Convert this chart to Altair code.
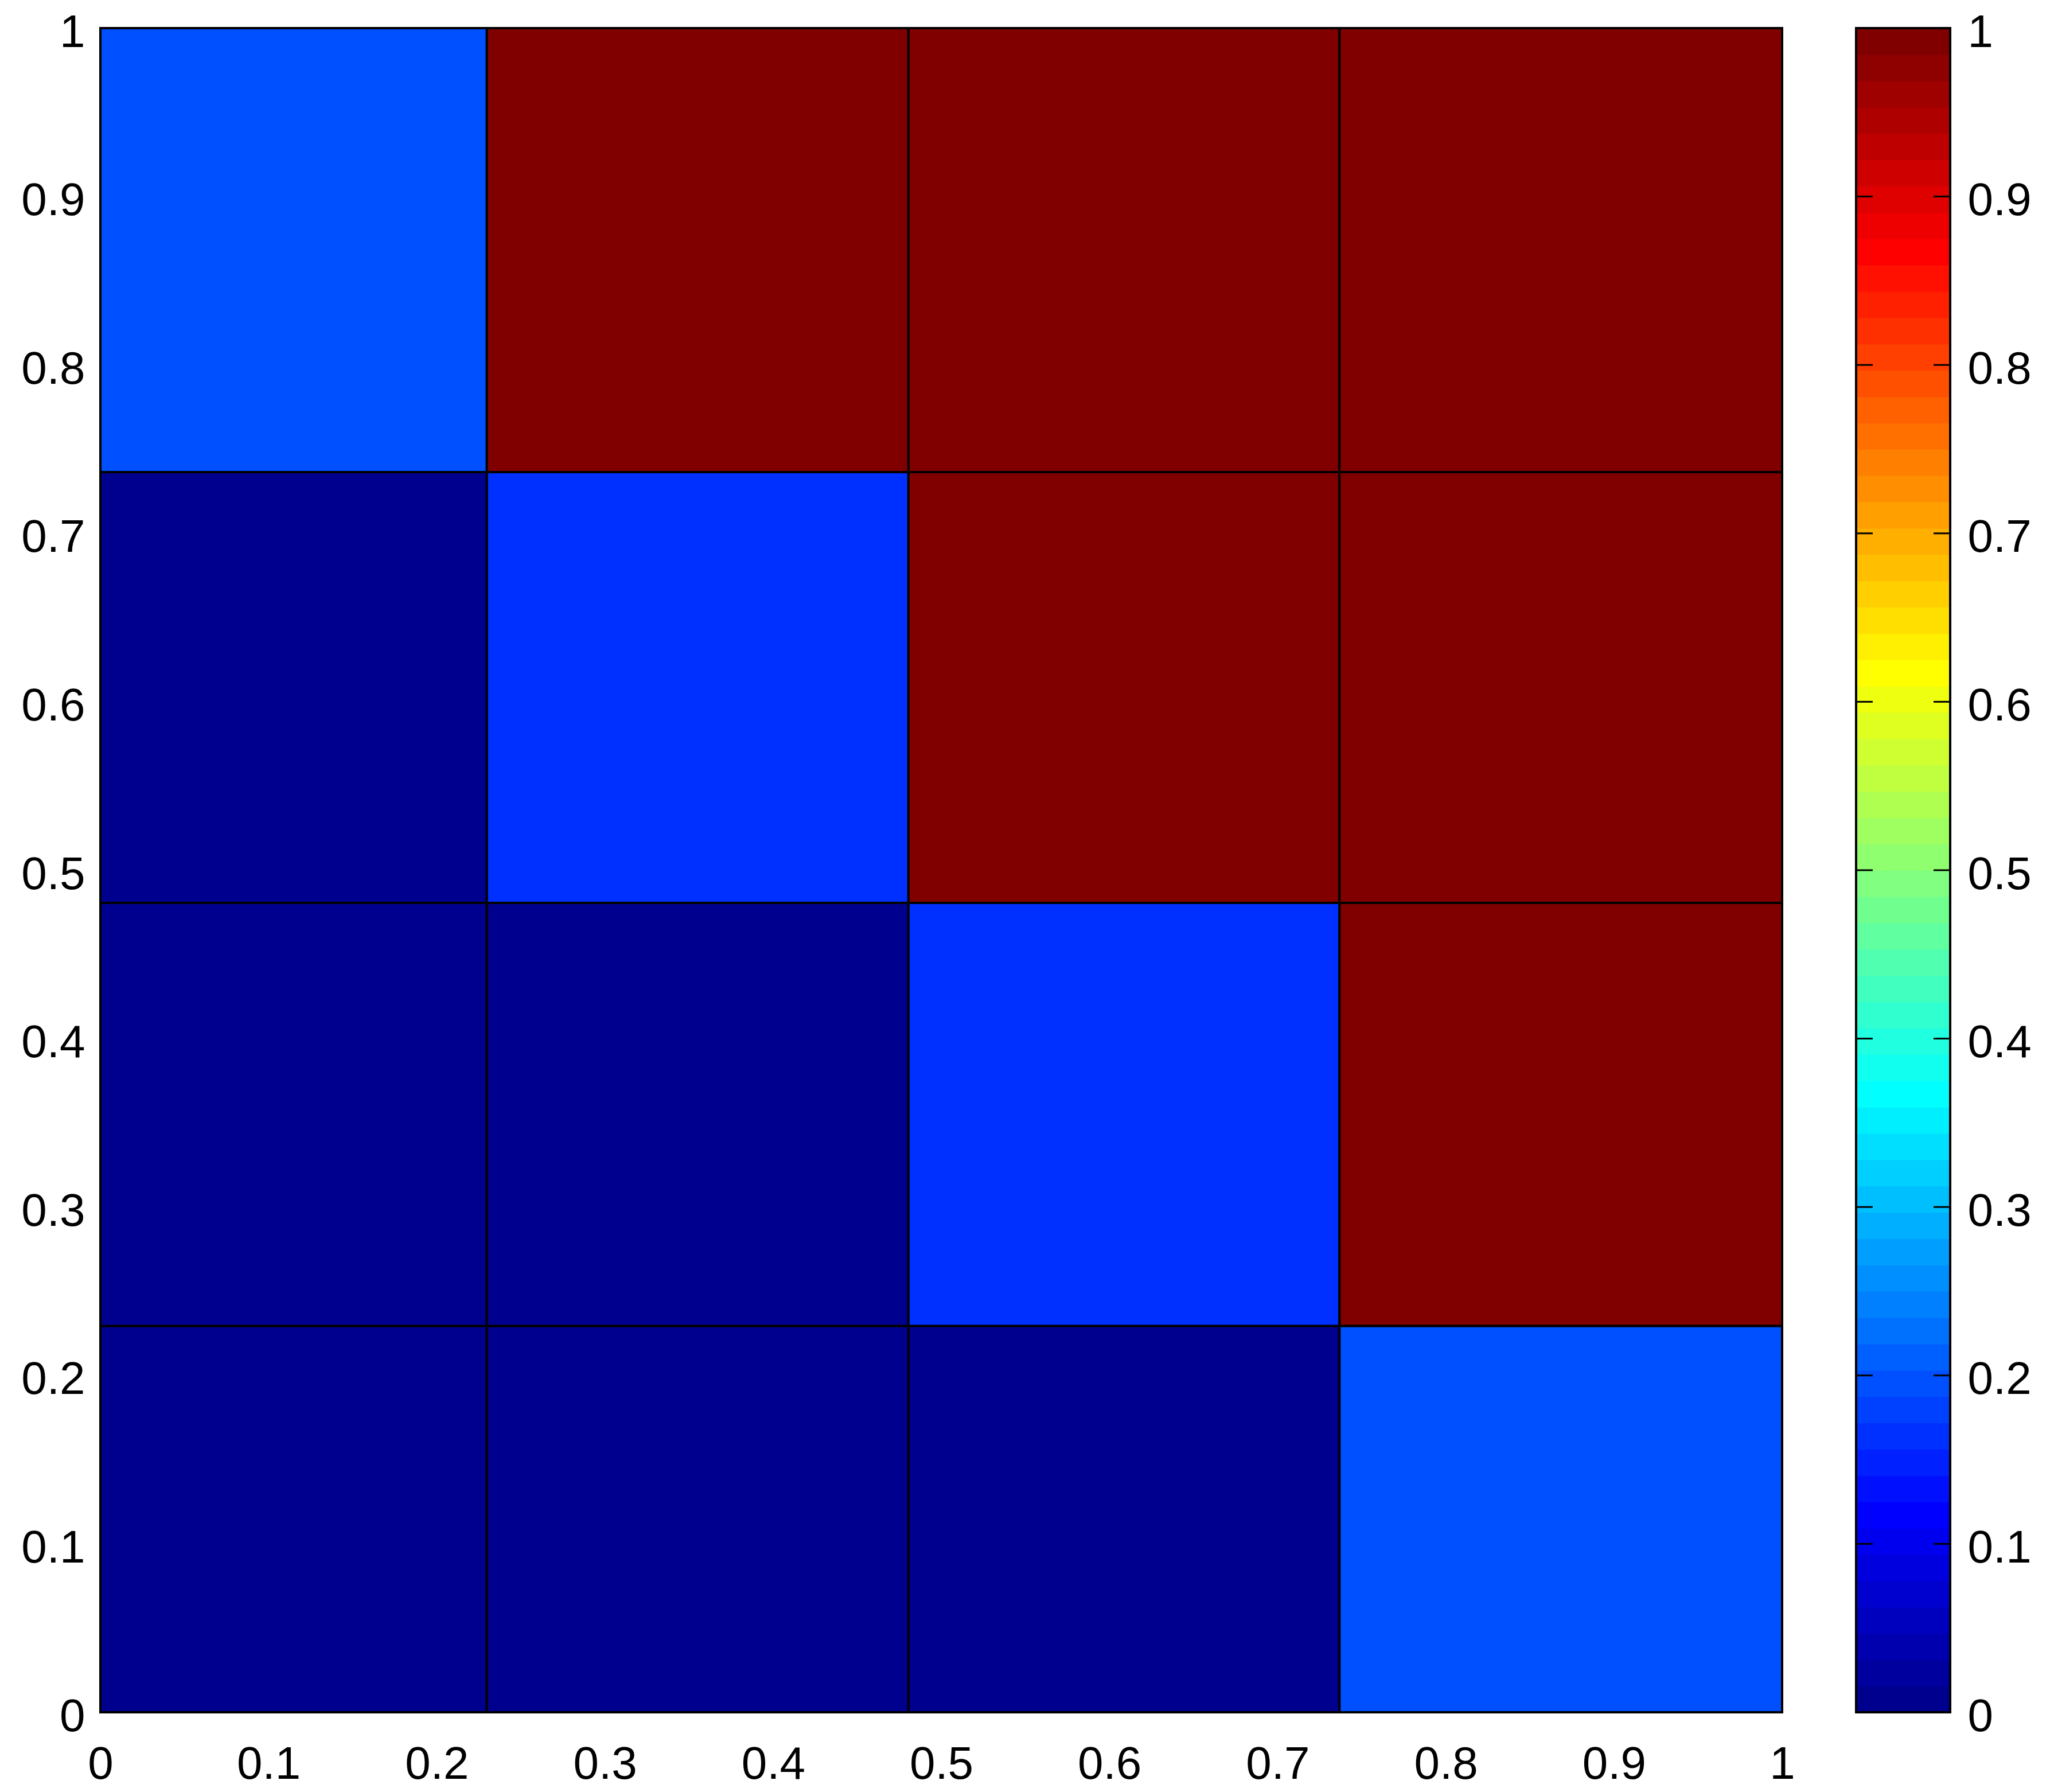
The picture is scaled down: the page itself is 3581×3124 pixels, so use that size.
import altair as alt
import pandas as pd
import math

# ---- data ----
x_edges = [0.0, 0.2298, 0.4805, 0.7368, 1.0]
y_edges = [0.0, 0.2294, 0.4806, 0.7364, 1.0]
# rows from bottom to top, columns left to right
row0 = [0.0, 0.0, 0.0, 0.195]
row1 = [0.0, 0.0, 0.17, 1.0]
row2 = [0.0, 0.17, 1.0, 1.0]
row3 = [0.195, 1.0, 1.0, 1.0]
rows = [row0, row1, row2, row3]
tick_values = [0, 0.1, 0.2, 0.3, 0.4, 0.5, 0.6, 0.7, 0.8, 0.9, 1.0]
cbar_tick_values = [0.1, 0.2, 0.3, 0.4, 0.5, 0.6, 0.7, 0.8, 0.9]

# ---- MATLAB jet(64) palette ----
def jet(m=64):
    n = math.ceil(m / 4)
    u = [k / n for k in range(1, n + 1)] + [1.0] * (n - 1) + [k / n for k in range(n, 0, -1)]
    g = [math.ceil(n / 2) - (1 if m % 4 == 1 else 0) + i for i in range(1, len(u) + 1)]
    r = [v + n for v in g]
    b = [v - n for v in g]
    g = [v for v in g if v <= m]
    r = [v for v in r if v <= m]
    b = [v for v in b if v >= 1]
    J = [[0.0, 0.0, 0.0] for _ in range(m)]
    for i, idx in enumerate(r):
        J[idx - 1][0] = u[i]
    for i, idx in enumerate(g):
        J[idx - 1][1] = u[i]
    off = len(u) - len(b)
    for i, idx in enumerate(b):
        J[idx - 1][2] = u[off + i]
    return ["#%02x%02x%02x" % tuple(int(round(c * 255)) for c in row) for row in J]

palette = jet(64)

cells = []
for ri, row in enumerate(rows):
    for ci, v in enumerate(row):
        cells.append({"x": x_edges[ci], "x2": x_edges[ci + 1],
                      "y": y_edges[ri], "y2": y_edges[ri + 1], "v": v})
cells_df = pd.DataFrame(cells)

stripes_df = pd.DataFrame({
    "lo": [i / 64 for i in range(64)],
    "hi": [(i + 1) / 64 for i in range(64)],
    "v": [(i + 0.5) / 64 for i in range(64)],
})
ticks_df = pd.DataFrame({"t": cbar_tick_values})

FONT = "Liberation Sans"
FS = 80
color_scale = alt.Scale(type="quantize", domain=[0, 1], range=palette)

main = alt.Chart(cells_df).mark_rect(stroke="black", strokeWidth=4).encode(
    x=alt.X("x:Q", scale=alt.Scale(domain=[0, 1], nice=False, zero=False),
            axis=alt.Axis(values=tick_values, format=".1~f", title=None, ticks=False,
                          domain=False, grid=False, labelPadding=52, labelFontSize=FS,
                          labelFont=FONT, labelColor="black", labelFlush=False)),
    x2="x2:Q",
    y=alt.Y("y:Q", scale=alt.Scale(domain=[0, 1], nice=False, zero=False),
            axis=alt.Axis(values=tick_values, format=".1~f", title=None, ticks=False,
                          domain=False, grid=False, labelPadding=27, labelFontSize=FS,
                          labelFont=FONT, labelColor="black", labelFlush=False,
                          labelOffset=8, minExtent=161, maxExtent=161)),
    y2="y2:Q",
    color=alt.Color("v:Q", scale=color_scale, legend=None),
).properties(width=2932, height=2936)

cb_stripes = alt.Chart(stripes_df).mark_rect(strokeWidth=1.5).encode(
    x=alt.value(0), x2=alt.value(164),
    y=alt.Y("lo:Q", scale=alt.Scale(domain=[0, 1], nice=False, zero=False),
            axis=alt.Axis(orient="right", values=tick_values, format=".1~f", title=None,
                          ticks=False, domain=False, grid=False, labelPadding=30,
                          labelFontSize=FS, labelFont=FONT, labelColor="black",
                          labelFlush=False, labelOffset=8)),
    y2="hi:Q",
    color=alt.Color("v:Q", scale=color_scale, legend=None),
    stroke=alt.Stroke("v:Q", scale=color_scale, legend=None),
)
cb_ticks_l = alt.Chart(ticks_df).mark_rule(color="black", strokeWidth=3).encode(
    x=alt.value(0), x2=alt.value(29), y="t:Q")
cb_ticks_r = alt.Chart(ticks_df).mark_rule(color="black", strokeWidth=3).encode(
    x=alt.value(135), x2=alt.value(164), y="t:Q")
cb_border = alt.Chart(ticks_df).mark_rect(fillOpacity=0, stroke="black", strokeWidth=4).encode(
    x=alt.value(0), x2=alt.value(164), y=alt.value(0), y2=alt.value(2936))
cbar = alt.layer(cb_stripes, cb_ticks_l, cb_ticks_r, cb_border).properties(width=164, height=2936)

chart = alt.hconcat(main, cbar, spacing=103).properties(
    padding={"left": 5, "top": 8, "right": 5, "bottom": 5}
).configure_view(stroke="black", strokeWidth=4).configure(background="white")

chart.save("out.html", embed_options={"renderer": "svg", "actions": False})
